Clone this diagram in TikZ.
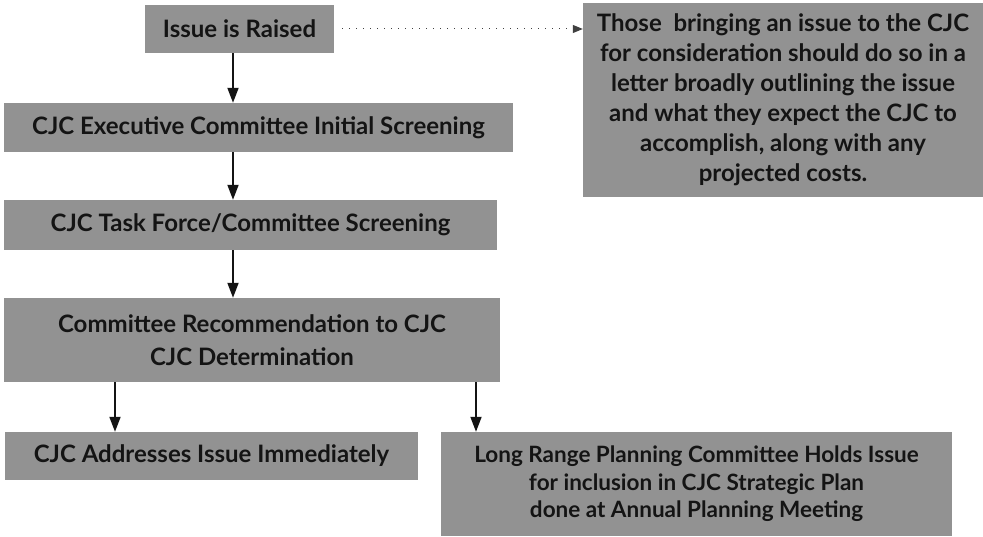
\documentclass[tikz,border=0pt]{standalone}
\usepackage{fontspec}
\setmainfont{Lato}
\usetikzlibrary{arrows.meta}
\definecolor{boxgray}{HTML}{929292}
\definecolor{txt}{HTML}{141414}
\tikzset{
  box/.style={draw=none, fill=boxgray, text=txt, align=center, inner sep=0pt,
    font=\bfseries\fontsize{24}{30}\selectfont},
  arr/.style={draw=txt, line width=1.8pt, -{Triangle[length=15pt,width=11pt]}},
  dotarr/.style={draw=black!75, line width=1pt, dash pattern=on 1pt off 6pt, -{Triangle[length=10pt,width=8pt]}}
}
\begin{document}
\begin{tikzpicture}[x=1pt,y=-1pt]
\useasboundingbox (0,0) rectangle (983,537);
\node[box, minimum width=189, minimum height=48] (b1) at (239.5,29) {Issue is Raised};
\node[box, minimum width=509, minimum height=49] (b2) at (258.5,127.5) {CJC Executive Committee Initial Screening};
\node[box, minimum width=493, minimum height=50] (b3) at (250.5,225) {CJC Task Force/Committee Screening};
\node[box, minimum width=496, minimum height=84, font=\bfseries\fontsize{24}{33}\selectfont] (b4) at (252,340) {Committee Recommendation to CJC\\CJC Determination};
\node[box, minimum width=413, minimum height=48] (b5) at (211.5,456) {CJC Addresses Issue Immediately};
\node[box, minimum width=511, minimum height=104, font=\bfseries\fontsize{22.5}{27.5}\selectfont] (b6) at (696.5,484) {Long Range Planning Committee Holds Issue\\for inclusion in CJC Strategic Plan\\done at Annual Planning Meeting};
\node[box, minimum width=400, minimum height=194, font=\bfseries\fontsize{24}{30}\selectfont] (b7) at (783,100) {Those\ \ bringing an issue to the CJC\\for consideration should do so in a\\letter broadly outlining the issue\\and what they expect the CJC to\\accomplish, along with any\\projected costs.};
\draw[arr] (b1.south -| 233,0) -- (b2.north -| 233,0);
\draw[arr] (b2.south -| 233,0) -- (b3.north -| 233,0);
\draw[arr] (b3.south -| 233,0) -- (b4.north -| 233,0);
\draw[arr] (b4.south -| 115,0) -- (b5.north -| 115,0);
\draw[arr] (b4.south -| 476,0) -- (b6.north -| 476,0);
\draw[dotarr] ([xshift=8]b1.east) -- (b7.west |- b1.east);
\end{tikzpicture}
\end{document}
